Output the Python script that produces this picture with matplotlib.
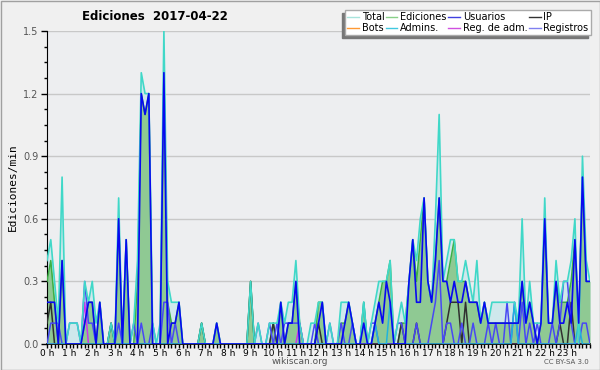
import matplotlib
matplotlib.use("Agg")
import matplotlib.pyplot as plt
from matplotlib.ticker import MultipleLocator, FixedLocator
from matplotlib.lines import Line2D
from matplotlib.patches import Rectangle
import numpy as np

# === DATA: edits/min per 10-minute slot, 2017-04-22 (one row per hour) ===
total = [
    0.4, 0.5, 0.3, 0.1, 0.8, 0.0,   # 0 h
    0.1, 0.1, 0.1, 0.0, 0.3, 0.2,   # 1 h
    0.3, 0.1, 0.2, 0.0, 0.0, 0.1,   # 2 h
    0.0, 0.7, 0.0, 0.5, 0.0, 0.1,   # 3 h
    0.4, 1.3, 1.2, 1.2, 0.1, 0.0,   # 4 h
    0.1, 1.5, 0.3, 0.2, 0.2, 0.2,   # 5 h
    0.0, 0.0, 0.0, 0.0, 0.0, 0.1,   # 6 h
    0.0, 0.0, 0.0, 0.1, 0.0, 0.0,   # 7 h
    0.0, 0.0, 0.0, 0.0, 0.0, 0.0,   # 8 h
    0.3, 0.0, 0.1, 0.0, 0.0, 0.1,   # 9 h
    0.1, 0.1, 0.2, 0.1, 0.2, 0.2,   # 10 h
    0.4, 0.1, 0.0, 0.0, 0.1, 0.1,   # 11 h
    0.2, 0.2, 0.0, 0.1, 0.0, 0.0,   # 12 h
    0.2, 0.2, 0.2, 0.1, 0.0, 0.0,   # 13 h
    0.2, 0.0, 0.1, 0.2, 0.3, 0.3,   # 14 h
    0.3, 0.4, 0.0, 0.1, 0.2, 0.1,   # 15 h
    0.3, 0.5, 0.4, 0.6, 0.7, 0.3,   # 16 h
    0.2, 0.6, 1.1, 0.3, 0.4, 0.5,   # 17 h
    0.5, 0.3, 0.3, 0.4, 0.3, 0.2,   # 18 h
    0.4, 0.1, 0.2, 0.1, 0.2, 0.2,   # 19 h
    0.2, 0.2, 0.2, 0.2, 0.2, 0.1,   # 20 h
    0.6, 0.1, 0.3, 0.1, 0.1, 0.1,   # 21 h
    0.7, 0.1, 0.1, 0.4, 0.2, 0.3,   # 22 h
    0.3, 0.4, 0.6, 0.0, 0.9, 0.4,   # 23 h
    0.3,
]

ediciones = [
    0.3, 0.4, 0.2, 0.0, 0.4, 0.0,
    0.0, 0.0, 0.0, 0.0, 0.1, 0.2,
    0.2, 0.0, 0.2, 0.0, 0.0, 0.1,
    0.0, 0.6, 0.0, 0.5, 0.0, 0.0,
    0.3, 1.2, 1.1, 1.2, 0.0, 0.0,
    0.0, 1.3, 0.2, 0.1, 0.1, 0.2,
    0.0, 0.0, 0.0, 0.0, 0.0, 0.1,
    0.0, 0.0, 0.0, 0.1, 0.0, 0.0,
    0.0, 0.0, 0.0, 0.0, 0.0, 0.0,
    0.3, 0.0, 0.0, 0.0, 0.0, 0.0,
    0.1, 0.0, 0.2, 0.0, 0.1, 0.1,
    0.3, 0.1, 0.0, 0.0, 0.0, 0.0,
    0.2, 0.2, 0.0, 0.0, 0.0, 0.0,
    0.1, 0.1, 0.2, 0.1, 0.0, 0.0,
    0.2, 0.0, 0.0, 0.1, 0.2, 0.3,
    0.3, 0.4, 0.0, 0.0, 0.1, 0.1,
    0.3, 0.5, 0.3, 0.5, 0.7, 0.3,
    0.2, 0.4, 0.7, 0.3, 0.3, 0.4,
    0.5, 0.3, 0.3, 0.3, 0.2, 0.2,
    0.2, 0.1, 0.2, 0.1, 0.1, 0.1,
    0.1, 0.1, 0.1, 0.1, 0.1, 0.1,
    0.3, 0.1, 0.2, 0.1, 0.0, 0.1,
    0.6, 0.1, 0.1, 0.3, 0.2, 0.2,
    0.2, 0.3, 0.5, 0.1, 0.8, 0.3,
    0.3,
]

usuarios = [
    0.2, 0.2, 0.2, 0.0, 0.4, 0.0,
    0.0, 0.0, 0.0, 0.0, 0.1, 0.2,
    0.2, 0.0, 0.2, 0.0, 0.0, 0.0,
    0.0, 0.6, 0.0, 0.5, 0.0, 0.0,
    0.0, 1.2, 1.1, 1.2, 0.0, 0.0,
    0.0, 1.3, 0.0, 0.1, 0.1, 0.2,
    0.0, 0.0, 0.0, 0.0, 0.0, 0.0,
    0.0, 0.0, 0.0, 0.1, 0.0, 0.0,
    0.0, 0.0, 0.0, 0.0, 0.0, 0.0,
    0.0, 0.0, 0.0, 0.0, 0.0, 0.0,
    0.0, 0.0, 0.2, 0.0, 0.1, 0.1,
    0.3, 0.0, 0.0, 0.0, 0.0, 0.0,
    0.1, 0.2, 0.0, 0.0, 0.0, 0.0,
    0.0, 0.1, 0.2, 0.1, 0.0, 0.0,
    0.1, 0.0, 0.0, 0.1, 0.2, 0.1,
    0.3, 0.2, 0.0, 0.0, 0.0, 0.0,
    0.3, 0.5, 0.2, 0.2, 0.7, 0.3,
    0.2, 0.4, 0.7, 0.3, 0.3, 0.2,
    0.3, 0.2, 0.2, 0.3, 0.2, 0.2,
    0.2, 0.1, 0.2, 0.1, 0.1, 0.1,
    0.1, 0.1, 0.1, 0.1, 0.1, 0.1,
    0.3, 0.1, 0.2, 0.1, 0.0, 0.1,
    0.6, 0.1, 0.1, 0.3, 0.1, 0.1,
    0.2, 0.1, 0.5, 0.1, 0.8, 0.3,
    0.3,
]

ip = [
    0.1, 0.2, 0.0, 0.0, 0.0, 0.0,
    0.0, 0.0, 0.0, 0.0, 0.0, 0.0,
    0.0, 0.0, 0.0, 0.0, 0.0, 0.1,
    0.0, 0.0, 0.0, 0.0, 0.0, 0.0,
    0.0, 0.0, 0.0, 0.0, 0.0, 0.0,
    0.0, 0.0, 0.0, 0.0, 0.0, 0.0,
    0.0, 0.0, 0.0, 0.0, 0.0, 0.1,
    0.0, 0.0, 0.0, 0.0, 0.0, 0.0,
    0.0, 0.0, 0.0, 0.0, 0.0, 0.0,
    0.3, 0.0, 0.0, 0.0, 0.0, 0.0,
    0.1, 0.0, 0.0, 0.0, 0.0, 0.0,
    0.0, 0.0, 0.0, 0.0, 0.0, 0.0,
    0.1, 0.0, 0.0, 0.0, 0.0, 0.0,
    0.0, 0.0, 0.0, 0.0, 0.0, 0.0,
    0.0, 0.0, 0.0, 0.0, 0.0, 0.0,
    0.0, 0.0, 0.0, 0.0, 0.1, 0.0,
    0.0, 0.0, 0.1, 0.0, 0.0, 0.0,
    0.0, 0.0, 0.0, 0.0, 0.1, 0.2,
    0.2, 0.2, 0.0, 0.2, 0.0, 0.0,
    0.0, 0.0, 0.0, 0.0, 0.0, 0.0,
    0.0, 0.0, 0.0, 0.0, 0.0, 0.0,
    0.0, 0.0, 0.0, 0.0, 0.0, 0.0,
    0.0, 0.0, 0.0, 0.0, 0.1, 0.0,
    0.0, 0.2, 0.0, 0.0, 0.0, 0.0,
    0.0,
]

registros = [
    0.0, 0.1, 0.1, 0.1, 0.0, 0.0,
    0.1, 0.1, 0.1, 0.0, 0.3, 0.1,
    0.1, 0.0, 0.0, 0.0, 0.0, 0.0,
    0.0, 0.1, 0.0, 0.0, 0.0, 0.1,
    0.0, 0.1, 0.0, 0.0, 0.1, 0.0,
    0.0, 0.2, 0.2, 0.0, 0.1, 0.0,
    0.0, 0.0, 0.0, 0.0, 0.0, 0.0,
    0.0, 0.0, 0.0, 0.0, 0.0, 0.0,
    0.0, 0.0, 0.0, 0.0, 0.0, 0.0,
    0.0, 0.0, 0.1, 0.0, 0.0, 0.1,
    0.0, 0.1, 0.0, 0.1, 0.1, 0.1,
    0.1, 0.1, 0.0, 0.0, 0.0, 0.1,
    0.0, 0.0, 0.0, 0.1, 0.0, 0.0,
    0.1, 0.0, 0.0, 0.1, 0.0, 0.0,
    0.0, 0.0, 0.1, 0.1, 0.0, 0.0,
    0.0, 0.0, 0.0, 0.1, 0.1, 0.0,
    0.0, 0.0, 0.1, 0.0, 0.0, 0.0,
    0.1, 0.2, 0.4, 0.0, 0.1, 0.1,
    0.0, 0.0, 0.1, 0.0, 0.0, 0.1,
    0.0, 0.0, 0.0, 0.1, 0.0, 0.1,
    0.0, 0.0, 0.2, 0.0, 0.2, 0.0,
    0.2, 0.0, 0.1, 0.0, 0.1, 0.0,
    0.0, 0.0, 0.1, 0.0, 0.1, 0.3,
    0.3, 0.1, 0.0, 0.0, 0.1, 0.1,
    0.0,
]

admins = [
    0.0, 0.0, 0.0, 0.0, 0.0, 0.0,
    0.0, 0.0, 0.0, 0.0, 0.0, 0.0,
    0.0, 0.0, 0.0, 0.0, 0.0, 0.0,
    0.0, 0.0, 0.0, 0.0, 0.0, 0.0,
    0.0, 0.0, 0.0, 0.0, 0.0, 0.0,
    0.0, 0.0, 0.0, 0.0, 0.0, 0.0,
    0.0, 0.0, 0.0, 0.0, 0.0, 0.0,
    0.0, 0.0, 0.0, 0.0, 0.0, 0.0,
    0.0, 0.0, 0.0, 0.0, 0.0, 0.0,
    0.0, 0.0, 0.0, 0.0, 0.0, 0.0,
    0.0, 0.0, 0.0, 0.0, 0.0, 0.0,
    0.0, 0.0, 0.0, 0.0, 0.0, 0.0,
    0.0, 0.0, 0.0, 0.0, 0.0, 0.0,
    0.0, 0.0, 0.0, 0.0, 0.0, 0.0,
    0.2, 0.0, 0.0, 0.1, 0.0, 0.0,
    0.0, 0.2, 0.0, 0.0, 0.0, 0.0,
    0.0, 0.0, 0.0, 0.0, 0.0, 0.0,
    0.0, 0.0, 0.0, 0.0, 0.0, 0.0,
    0.0, 0.0, 0.0, 0.0, 0.0, 0.0,
    0.0, 0.0, 0.0, 0.0, 0.0, 0.0,
    0.0, 0.0, 0.0, 0.0, 0.2, 0.0,
    0.0, 0.0, 0.0, 0.0, 0.0, 0.0,
    0.0, 0.0, 0.0, 0.0, 0.0, 0.0,
    0.0, 0.0, 0.0, 0.1, 0.0, 0.0,
    0.0,
]

reg_adm = [
    0.0, 0.0, 0.0, 0.0, 0.0, 0.0,
    0.0, 0.0, 0.0, 0.0, 0.2, 0.0,
    0.0, 0.0, 0.0, 0.0, 0.0, 0.0,
    0.0, 0.0, 0.0, 0.0, 0.0, 0.0,
    0.0, 0.0, 0.0, 0.0, 0.0, 0.0,
    0.0, 0.0, 0.0, 0.0, 0.0, 0.0,
    0.0, 0.0, 0.0, 0.0, 0.0, 0.0,
    0.0, 0.0, 0.0, 0.0, 0.0, 0.0,
    0.0, 0.0, 0.0, 0.0, 0.0, 0.0,
    0.0, 0.0, 0.0, 0.0, 0.0, 0.0,
    0.0, 0.0, 0.0, 0.0, 0.0, 0.0,
    0.0, 0.1, 0.0, 0.0, 0.0, 0.0,
    0.0, 0.0, 0.0, 0.0, 0.0, 0.0,
    0.0, 0.0, 0.0, 0.0, 0.0, 0.0,
    0.0, 0.0, 0.0, 0.0, 0.0, 0.0,
    0.0, 0.0, 0.0, 0.0, 0.0, 0.0,
    0.0, 0.0, 0.0, 0.0, 0.0, 0.0,
    0.0, 0.0, 0.0, 0.0, 0.0, 0.0,
    0.0, 0.0, 0.0, 0.0, 0.0, 0.0,
    0.0, 0.0, 0.0, 0.0, 0.0, 0.0,
    0.0, 0.0, 0.0, 0.0, 0.0, 0.0,
    0.0, 0.0, 0.0, 0.0, 0.0, 0.0,
    0.0, 0.0, 0.0, 0.0, 0.0, 0.0,
    0.0, 0.0, 0.0, 0.0, 0.0, 0.0,
    0.0,
]

hour_labels = [f"{h} h" for h in range(24)]

# slot index -> hours
x = np.arange(len(total)) / 6.0

fig = plt.figure(figsize=(6, 3.7), dpi=100, facecolor="#f0f0f0")
ax = fig.add_axes([47 / 600, 26 / 370, 543 / 600, 313 / 370])
ax.set_facecolor("#edeef0")

# fills
ax.fill_between(x, total, color="#cfe8ec", lw=0, zorder=1)
ax.fill_between(x, ediciones, color="#8fc993", lw=0, zorder=2)

# lines
ax.plot(x, ediciones, color="#3cb043", lw=1.1, zorder=3)
ax.plot(x, reg_adm, color="#cc33ee", lw=1.1, zorder=4)
ax.plot(x, ip, color="#303030", lw=1.1, zorder=4)
ax.plot(x, registros, color="#4848f4", lw=1.1, zorder=4)
ax.plot(x, admins, color="#20b4dc", lw=1.1, zorder=4)
ax.plot(x, total, color="#40d8c8", lw=1.2, zorder=5)
ax.plot(x, usuarios, color="#0808f0", lw=1.2, zorder=6)

ax.set_xlim(0, 24)
ax.set_ylim(0, 1.5)

ax.yaxis.set_major_locator(MultipleLocator(0.3))
ax.yaxis.set_minor_locator(MultipleLocator(0.075))
ax.xaxis.set_major_locator(FixedLocator(range(24)))
ax.xaxis.set_minor_locator(MultipleLocator(1 / 6))
ax.set_xticklabels(hour_labels)
ax.set_yticks([0, 0.3, 0.6, 0.9, 1.2, 1.5])
ax.set_yticklabels(["0.0", "0.3", "0.6", "0.9", "1.2", "1.5"])

ax.tick_params(axis="both", which="both", direction="out", width=1, color="black")
ax.tick_params(axis="x", which="both", length=3, labelsize=6.5, pad=0.5)
ax.tick_params(axis="y", which="major", length=4, labelsize=7, labelcolor="#555555", pad=2)
ax.tick_params(axis="y", which="minor", length=2)

ax.grid(True, axis="y", color="#c8c8c8", lw=1)
ax.set_axisbelow(True)
for side in ["top", "right"]:
    ax.spines[side].set_visible(False)
ax.spines["left"].set_color("black")
ax.spines["bottom"].set_color("black")
ax.spines["bottom"].set_linewidth(1.2)

ax.set_ylabel("Ediciones/min", family="DejaVu Sans Mono", fontsize=8, labelpad=4)

fig.text(155 / 600, 1 - 17 / 370, "Ediciones  2017-04-22", ha="center", va="center",
         fontsize=8.5, fontweight="bold")
fig.text(300 / 600, 1 - 362 / 370, "wikiscan.org", ha="center", va="center",
         fontsize=6.5, color="#555555")
fig.text(589 / 600, 1 - 362 / 370, "CC BY-SA 3.0", ha="right", va="center",
         fontsize=5, color="#555555")

# legend (column-major order so rows read as in the original)
names = ["Total", "Bots", "Ediciones", "Admins.", "Usuarios", "Reg. de adm.", "IP", "Registros"]
colors = ["#a8e4dc", "#ff9933", "#88d088", "#40c8e0", "#4040e0", "#d050e0", "#333333", "#8080f0"]
handles = [Line2D([], [], color=c, lw=1) for c in colors]
leg = fig.legend(handles, names, ncol=4, loc="upper right",
                 bbox_to_anchor=(591 / 600, 1 - 10 / 370), fontsize=7,
                 handlelength=1.2, handletextpad=0.3, columnspacing=0.15,
                 labelspacing=0.05, borderpad=0.25, borderaxespad=0,
                 fancybox=False, framealpha=1, edgecolor="#aaaaaa", facecolor="white")
leg.get_frame().set_linewidth(1)

# shadow down-left of the legend box
fig.canvas.draw()
bb = leg.get_window_extent().transformed(fig.transFigure.inverted())
fig.patches.append(Rectangle((bb.x0 - 3 / 600, bb.y0 - 3 / 370), bb.width, bb.height,
                             transform=fig.transFigure, color="#777777", zorder=4))

# outer border
fig.patches.append(Rectangle((0.5 / 600, 0.5 / 370), 599 / 600, 369 / 370,
                             transform=fig.transFigure, fill=False,
                             edgecolor="#a0a0a0", lw=1, zorder=0))

fig.savefig("out.png", dpi=100, facecolor=fig.get_facecolor())
